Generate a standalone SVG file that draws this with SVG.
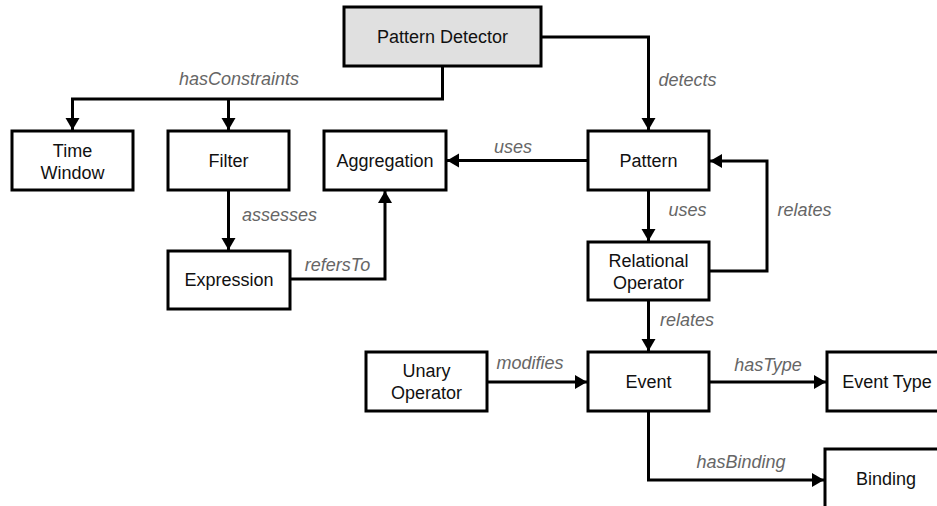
<svg xmlns="http://www.w3.org/2000/svg" width="937" height="506" viewBox="0 0 937 506">
  <style>
    .box { fill: #ffffff; stroke: #000000; stroke-width: 3; }
    .root { fill: #e0e0e0; }
    .name { font-family: "Liberation Sans", Arial, sans-serif; font-size: 18px; fill: #111111; text-anchor: middle; }
    .edge { fill: none; stroke: #000000; stroke-width: 3; }
    .rel { font-family: "Liberation Sans", Arial, sans-serif; font-size: 18px; font-style: italic; fill: #666666; text-anchor: middle; }
  </style>
  <defs>
    <marker id="arrow" markerUnits="userSpaceOnUse" markerWidth="13" markerHeight="15" refX="12" refY="7" orient="auto">
      <path d="M0,0 L12,7 L0,14 Z" fill="#000000"/>
    </marker>
  </defs>
  <rect width="937" height="506" fill="#ffffff"/>

  <g id="connectors">
    <!-- Pattern Detector -> Time Window / Filter -->
    <path class="edge" d="M442.5,66 V99 H72.5 V130" marker-end="url(#arrow)"/>
    <path class="edge" d="M228.5,99 V130" marker-end="url(#arrow)"/>
    <text class="rel" x="239" y="85">hasConstraints</text>
    <!-- Pattern Detector -> Pattern -->
    <path class="edge" d="M541,37 H648.5 V130" marker-end="url(#arrow)"/>
    <text class="rel" x="687.5" y="86">detects</text>
    <!-- Pattern -> Aggregation -->
    <path class="edge" d="M588,160.5 H447" marker-end="url(#arrow)"/>
    <text class="rel" x="513" y="153">uses</text>
    <!-- Filter -> Expression -->
    <path class="edge" d="M228.5,190 V250" marker-end="url(#arrow)"/>
    <text class="rel" x="279.5" y="221">assesses</text>
    <!-- Expression -> Aggregation -->
    <path class="edge" d="M290,279 H385 V191" marker-end="url(#arrow)"/>
    <text class="rel" x="337.5" y="271">refersTo</text>
    <!-- Pattern -> Relational Operator -->
    <path class="edge" d="M648.5,190 V241" marker-end="url(#arrow)"/>
    <text class="rel" x="687.5" y="216">uses</text>
    <!-- Relational Operator -> Pattern -->
    <path class="edge" d="M709,271 H767 V161 H710" marker-end="url(#arrow)"/>
    <text class="rel" x="804.5" y="216">relates</text>
    <!-- Relational Operator -> Event -->
    <path class="edge" d="M648.5,300 V351" marker-end="url(#arrow)"/>
    <text class="rel" x="687" y="326">relates</text>
    <!-- Unary Operator -> Event -->
    <path class="edge" d="M487,382 H587" marker-end="url(#arrow)"/>
    <text class="rel" x="530" y="369">modifies</text>
    <!-- Event -> Event Type -->
    <path class="edge" d="M709,382 H826" marker-end="url(#arrow)"/>
    <text class="rel" x="768" y="371">hasType</text>
    <!-- Event -> Binding -->
    <path class="edge" d="M648.5,411 V480 H824" marker-end="url(#arrow)"/>
    <text class="rel" x="741" y="468">hasBinding</text>
  </g>

  <g id="pattern-detector">
    <rect class="box root" x="344" y="7" width="197" height="59"/>
    <text class="name" x="442.5" y="43">Pattern Detector</text>
  </g>
  <g id="time-window">
    <rect class="box" x="12" y="131" width="121" height="59"/>
    <text class="name" x="72.5" y="157">Time</text>
    <text class="name" x="72.5" y="179">Window</text>
  </g>
  <g id="filter">
    <rect class="box" x="168" y="131" width="121" height="59"/>
    <text class="name" x="228.5" y="167">Filter</text>
  </g>
  <g id="aggregation">
    <rect class="box" x="324" y="131" width="122" height="59"/>
    <text class="name" x="385" y="167">Aggregation</text>
  </g>
  <g id="pattern">
    <rect class="box" x="588" y="131" width="121" height="59"/>
    <text class="name" x="648.5" y="167">Pattern</text>
  </g>
  <g id="expression">
    <rect class="box" x="168" y="251" width="122" height="58"/>
    <text class="name" x="229" y="286">Expression</text>
  </g>
  <g id="relational-operator">
    <rect class="box" x="588" y="242" width="121" height="58"/>
    <text class="name" x="648.5" y="267">Relational</text>
    <text class="name" x="648.5" y="289">Operator</text>
  </g>
  <g id="unary-operator">
    <rect class="box" x="366" y="352" width="121" height="59"/>
    <text class="name" x="426.5" y="377">Unary</text>
    <text class="name" x="426.5" y="399">Operator</text>
  </g>
  <g id="event">
    <rect class="box" x="588" y="352" width="121" height="59"/>
    <text class="name" x="648.5" y="388">Event</text>
  </g>
  <g id="event-type">
    <rect class="box" x="827" y="352" width="121" height="59"/>
    <text class="name" x="887" y="388">Event Type</text>
  </g>
  <g id="binding">
    <rect class="box" x="825" y="449" width="121" height="59"/>
    <text class="name" x="886" y="485">Binding</text>
  </g>
</svg>
